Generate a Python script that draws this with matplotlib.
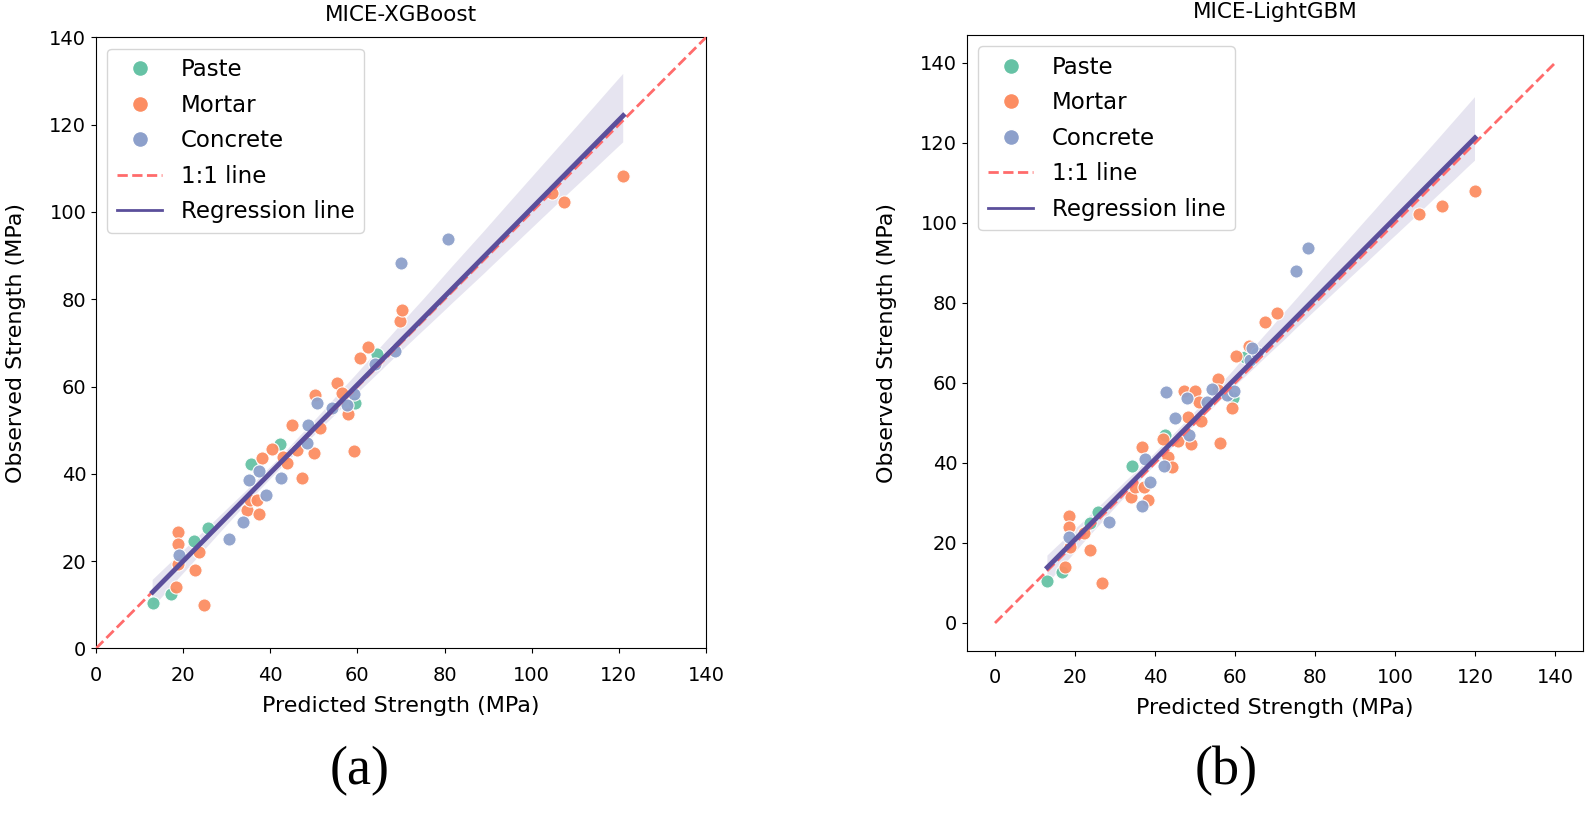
import matplotlib
matplotlib.use("Agg")
import matplotlib.pyplot as plt
from matplotlib.lines import Line2D
import numpy as np
import seaborn as sns

## MICE-XGBoost (predicted, observed)
paste_x_a = [13.0, 17.2, 22.6, 25.6, 35.6, 42.2, 59.4, 64.4]
paste_y_a = [10.3, 12.5, 24.7, 27.7, 42.2, 46.8, 56.3, 67.5]
mortar_x_a = [24.8, 18.4, 22.8, 18.8, 18.8, 18.8, 23.6, 34.7, 37.5, 35.3, 37.0, 38.0, 40.3, 43.0,
              43.8, 47.3, 46.1, 50.1, 44.9, 51.4, 59.1, 50.3, 55.4, 56.4, 57.9, 60.6, 62.5, 69.8,
              70.3, 104.7, 107.3, 121.0]
mortar_y_a = [9.9, 14.0, 18.0, 26.6, 23.9, 19.3, 22.2, 31.7, 30.7, 34.0, 34.0, 43.7, 45.7, 43.9,
              42.4, 39.1, 45.5, 44.7, 51.2, 50.4, 45.2, 58.1, 60.9, 58.5, 53.6, 66.6, 69.1, 75.1,
              77.5, 104.3, 102.2, 108.3]
concrete_x_a = [19.0, 30.6, 33.7, 39.0, 35.2, 37.3, 42.4, 48.5, 48.7, 50.8, 59.1, 57.5, 54.1,
                64.0, 68.6, 70.1, 80.9]
concrete_y_a = [21.4, 25.0, 29.0, 35.2, 38.7, 40.7, 39.1, 47.0, 51.2, 56.3, 58.3, 55.8, 55.0,
                65.2, 68.1, 88.2, 93.7]

## MICE-LightGBM
paste_x_b = [13.1, 16.7, 23.8, 25.8, 34.3, 42.5, 59.5, 62.5]
paste_y_b = [10.6, 12.7, 24.9, 27.8, 39.3, 47.0, 56.2, 66.5]
mortar_x_b = [17.5, 26.8, 23.8, 18.5, 18.5, 18.8, 22.3, 34.0, 38.3, 35.0, 37.3, 36.7, 42.1, 43.3,
              44.3, 45.8, 49.0, 56.3, 48.3, 51.4, 47.3, 50.0, 51.1, 55.8, 55.8, 59.3, 60.3, 63.4,
              67.5, 70.4, 106.0, 111.8, 120.0]
mortar_y_b = [14.1, 10.1, 18.3, 26.8, 23.9, 19.1, 22.4, 31.6, 30.8, 34.1, 34.1, 43.9, 45.9, 41.4,
              39.1, 45.5, 44.7, 45.1, 51.4, 50.5, 58.1, 58.1, 55.3, 60.9, 58.3, 53.8, 66.8, 69.3,
              75.2, 77.4, 102.3, 104.3, 108.1]
concrete_x_b = [18.5, 28.6, 36.7, 38.8, 37.5, 42.3, 48.6, 45.0, 42.7, 47.9, 52.9, 54.2, 57.9,
                59.8, 63.8, 65.4, 64.2, 75.3, 78.3]
concrete_y_b = [21.4, 25.2, 29.3, 35.3, 40.9, 39.3, 47.0, 51.2, 57.7, 56.2, 55.3, 58.4, 57.0,
                58.1, 65.8, 67.4, 68.7, 88.1, 93.7]

groups = ['Paste', 'Mortar', 'Concrete']
colors = ['#66c2a5', '#fc8d62', '#8da0cb']
ticks = [0, 20, 40, 60, 80, 100, 120, 140]
line_red = '#ff6b6b'
reg_col = '#5b4f9b'

plt.rcParams['font.family'] = 'DejaVu Sans'

fig = plt.figure(figsize=(15.86, 8.17), dpi=100)
W, H = 1586, 817
ax1 = fig.add_axes([96 / W, 1 - 648.4 / H, 610 / W, 611 / H])
ax2 = fig.add_axes([967 / W, 1 - 651 / H, 616 / W, 616 / H])


def panel(ax, xs, ys, title, lims):
    for x, y, c in zip(xs, ys, colors):
        ax.scatter(x, y, s=90, color=c, edgecolor='white', linewidth=0.8, alpha=0.95, zorder=2)
    ax.plot([0, 140], [0, 140], linestyle='--', color=line_red, lw=2, zorder=3)
    allx = np.concatenate([np.array(v) for v in xs])
    ally = np.concatenate([np.array(v) for v in ys])
    sns.regplot(x=allx, y=ally, ax=ax, scatter=False, ci=95, seed=0, color=reg_col,
                line_kws={'lw': 3.5, 'zorder': 4})
    ax.set_xlim(lims)
    ax.set_ylim(lims)
    ax.set_xticks(ticks)
    ax.set_yticks(ticks)
    ax.tick_params(labelsize=14)
    ax.tick_params(axis='x', pad=9)
    ax.set_xlabel('Predicted Strength (MPa)', fontsize=16, labelpad=8)
    ax.set_ylabel('Observed Strength (MPa)', fontsize=16, labelpad=17)
    ax.set_title(title, fontsize=15.5, pad=12)
    handles = [Line2D([], [], marker='o', linestyle='none', markersize=11.5, color=c,
                      markeredgecolor='white') for c in colors]
    handles.append(Line2D([], [], linestyle='--', color=line_red, lw=2))
    handles.append(Line2D([], [], color=reg_col, lw=2))
    ax.legend(handles, groups + ['1:1 line', 'Regression line'], loc='upper left',
              fontsize=16.5, labelspacing=0.55)


panel(ax1, [paste_x_a, mortar_x_a, concrete_x_a], [paste_y_a, mortar_y_a, concrete_y_a],
      'MICE-XGBoost', (0, 140))
panel(ax2, [paste_x_b, mortar_x_b, concrete_x_b], [paste_y_b, mortar_y_b, concrete_y_b],
      'MICE-LightGBM', (-7, 147))

fig.text(360 / W, 1 - 771 / H, '(a)', family='Liberation Serif', fontsize=39, ha='center', va='center')
fig.text(1226 / W, 1 - 771 / H, '(b)', family='Liberation Serif', fontsize=39, ha='center', va='center')

fig.savefig('out.png', dpi=100)
